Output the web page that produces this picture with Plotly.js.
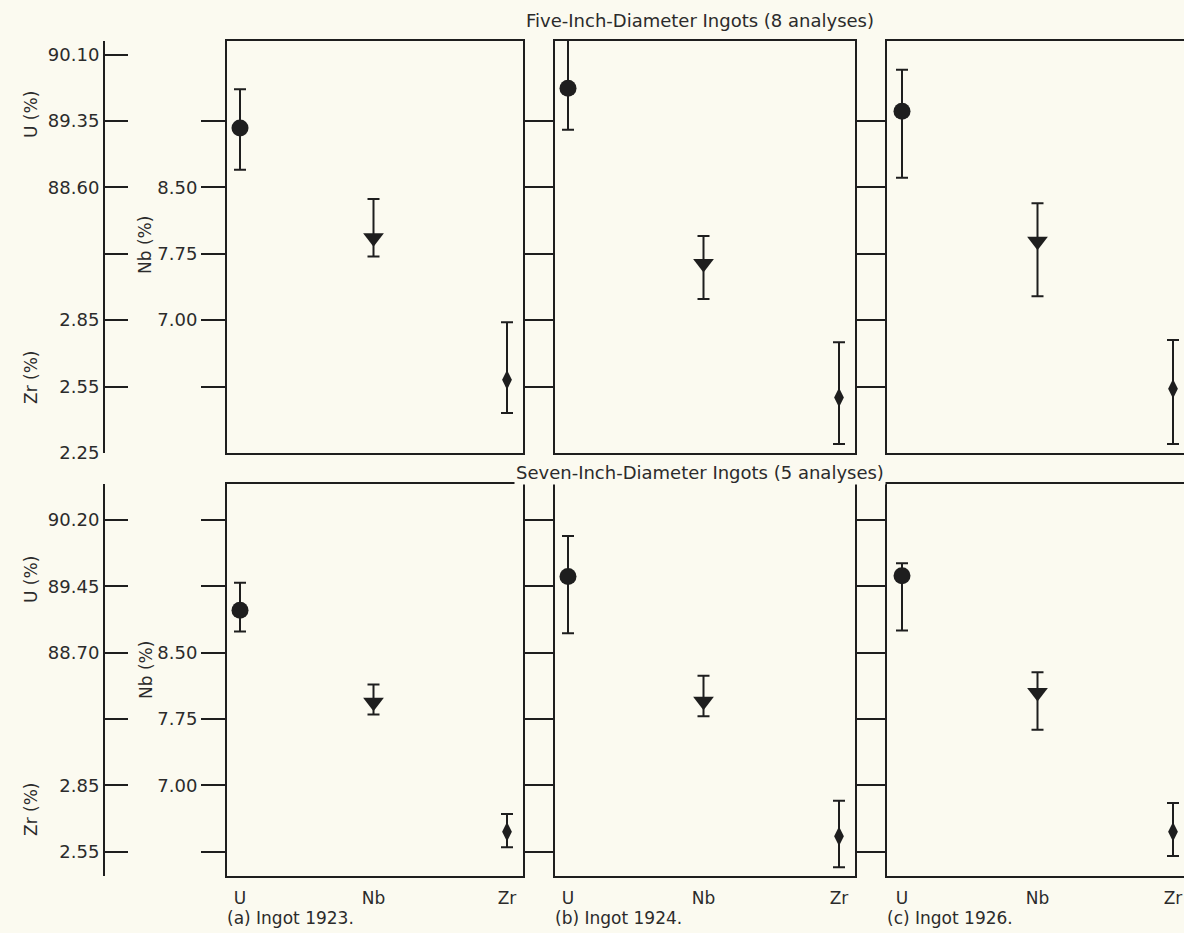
<!DOCTYPE html>
<html><head><meta charset="utf-8">
<script src="https://cdn.plot.ly/plotly-3.0.1.min.js"></script>
<style>html,body{margin:0;padding:0;overflow:hidden;background:#fbfaf0}</style>
</head><body><div id="chart"></div>
<script>
// ---------------- DATA ----------------
const categories = ['U', 'Nb', 'Zr'];
const ingots = ['(a) Ingot 1923.', '(b) Ingot 1924.', '(c) Ingot 1926.'];
const rowTitles = ['Five-Inch-Diameter Ingots (8 analyses)', 'Seven-Inch-Diameter Ingots (5 analyses)'];

// Five-inch ingots (a, b, c)
const u5Mean = [89.27, 89.72, 89.46];
const u5High = [89.71, 90.32, 89.93];
const u5Low  = [88.80, 89.25, 88.71];
const nb5Mean = [7.93, 7.64, 7.89];
const nb5High = [8.37, 7.95, 8.32];
const nb5Low  = [7.72, 7.24, 7.27];
const zr5Mean = [2.58, 2.50, 2.54];
const zr5High = [2.84, 2.75, 2.76];
const zr5Low  = [2.43, 2.29, 2.29];

// Seven-inch ingots (a, b, c)
const u7Mean = [89.18, 89.56, 89.57];
const u7High = [89.49, 90.02, 89.71];
const u7Low  = [88.94, 88.92, 88.95];
const nb7Mean = [7.94, 7.95, 8.05];
const nb7High = [8.14, 8.24, 8.28];
const nb7Low  = [7.80, 7.78, 7.63];
const zr7Mean = [2.64, 2.62, 2.64];
const zr7High = [2.72, 2.78, 2.77];
const zr7Low  = [2.57, 2.48, 2.53];

// Tick values / labels
const uTicks5 = [90.10, 89.35, 88.60, 87.85];
const uTickText5 = ['90.10', '89.35', '88.60', ''];
const zrTicks5 = [2.85, 2.55, 2.25];
const zrTickText5 = ['2.85', '2.55', '2.25'];
const nbTicks5 = [9.25, 8.50, 7.75, 7.00, 6.25];
const nbTickText5 = ['', '8.50', '7.75', '7.00', ''];

const uTicks7 = [90.20, 89.45, 88.70, 87.95];
const uTickText7 = ['90.20', '89.45', '88.70', ''];
const zrTicks7 = [2.85, 2.55];
const zrTickText7 = ['2.85', '2.55'];
const nbTicks7 = [10.00, 9.25, 8.50, 7.75, 7.00, 6.25];
const nbTickText7 = ['', '', '8.50', '7.75', '7.00', ''];

// ---------------- LAYOUT GEOMETRY ----------------
const W = 1200, H = 933;
const fx = p => p / W;
const fy = p => 1 - p / H;
const INK = '#1e1e1e';
const TXT = '#2b2b2b';
const FONT = 'DejaVu Sans';
const BG = '#fbfaf0';

const panelsX = [
  {l: 227, r: 523, u: 240, z: 507},
  {l: 555, r: 855, u: 568, z: 839},
  {l: 887, r: 1195, u: 902, z: 1173}
];
const rows = [
  {top: 41, bot: 453, refPx: 121, uRef: 89.35, nbRef: 9.25, zrRefPx: 386.5, zrRef: 2.55, step: 66.375},
  {top: 484, bot: 876, refPx: 520, uRef: 90.20, nbRef: 10.00, zrRefPx: 851.7, zrRef: 2.55, step: 66.34}
];
function yRange(val, px, pxPerUnit, top, bot) {
  return [val - (bot - px) / pxPerUnit, val + (px - top) / pxPerUnit];
}
function xRange(p) { const s = (p.z - p.u) / 2; return [(p.l - p.u) / s, (p.r - p.u) / s]; }

const data = [];
const layout = {
  width: W, height: H,
  margin: {l: 0, r: 0, t: 0, b: 0},
  paper_bgcolor: BG, plot_bgcolor: BG,
  showlegend: false,
  font: {family: FONT, color: TXT, size: 17},
  annotations: []
};

const rowData = [
  {u: [u5Mean, u5High, u5Low], nb: [nb5Mean, nb5High, nb5Low], zr: [zr5Mean, zr5High, zr5Low],
   uT: [uTicks5, uTickText5], zrT: [zrTicks5, zrTickText5], nbT: [nbTicks5, nbTickText5]},
  {u: [u7Mean, u7High, u7Low], nb: [nb7Mean, nb7High, nb7Low], zr: [zr7Mean, zr7High, zr7Low],
   uT: [uTicks7, uTickText7], zrT: [zrTicks7, zrTickText7], nbT: [nbTicks7, nbTickText7]}
];

const tickFont = {family: FONT, size: 18, color: TXT};

rows.forEach((row, ri) => {
  const rd = rowData[ri];
  const dom = [fy(row.bot), fy(row.top)];
  const ppuA = row.step / 0.75, ppuZ = row.step / 0.30;
  const nbRange = yRange(row.nbRef, row.refPx, ppuA, row.top, row.bot);
  const uRange = yRange(row.uRef, row.refPx, ppuA, row.top, row.bot);
  const zrRange = yRange(row.zrRef, row.zrRefPx, ppuZ, row.top, row.bot);
  const yNb = ri * 3 + 1, yU = ri * 3 + 2, yZr = ri * 3 + 3;
  const xFirst = ri * 3 + 1;
  const key = n => (n === 1 ? '' : String(n));

  // Nb axis: panel frame + ticks between panels
  layout['yaxis' + key(yNb)] = {
    domain: dom, range: nbRange, anchor: 'x' + key(xFirst),
    showline: true, linewidth: 2, linecolor: INK, mirror: 'allticks',
    ticks: 'outside', ticklen: 24, tickwidth: 2, tickcolor: INK,
    tickmode: 'array', tickvals: rd.nbT[0], ticktext: rd.nbT[1],
    showgrid: false, zeroline: false, tickfont: tickFont
  };
  // U outer axis
  layout['yaxis' + key(yU)] = {
    domain: dom, range: uRange, overlaying: 'y' + key(yNb), anchor: 'free', position: fx(104),
    showline: true, linewidth: 2, linecolor: INK,
    ticks: 'inside', ticklen: 23, tickwidth: 2, tickcolor: INK,
    tickmode: 'array', tickvals: rd.uT[0], ticktext: rd.uT[1],
    showgrid: false, zeroline: false, tickfont: tickFont
  };
  // Zr outer axis
  const zrVals = rd.zrT[0].slice(), zrText = rd.zrT[1].slice();
  if (ri === 1) { zrVals.push(zrRange[0] + 1e-6); zrText.push(''); }
  layout['yaxis' + key(yZr)] = {
    domain: dom, range: zrRange, overlaying: 'y' + key(yNb), anchor: 'free', position: fx(104),
    showline: true, linewidth: 2, linecolor: INK,
    ticks: 'inside', ticklen: 23, tickwidth: 2, tickcolor: INK,
    tickmode: 'array', tickvals: zrVals, ticktext: zrText,
    showgrid: false, zeroline: false, tickfont: tickFont
  };

  panelsX.forEach((p, pi) => {
    const xn = xFirst + pi;
    layout['xaxis' + key(xn)] = {
      domain: [fx(p.l), fx(p.r)], range: xRange(p), anchor: 'y' + key(yNb),
      showline: true, linewidth: 2, linecolor: INK, mirror: true,
      showgrid: false, zeroline: false,
      tickmode: 'array', tickvals: [0, 1, 2], ticktext: categories,
      showticklabels: ri === 1,
      ticks: ri === 1 ? 'outside' : '', ticklen: 6, tickcolor: 'rgba(0,0,0,0)',
      tickfont: {family: FONT, size: 17, color: TXT}
    };
    const series = [
      {vals: rd.u, ax: yU, sym: 'circle', size: 17, x: 0},
      {vals: rd.nb, ax: yNb, sym: 'triangle-down', size: 18, x: 1},
      {vals: rd.zr, ax: yZr, sym: 'diamond-tall', size: 14, x: 2}
    ];
    series.forEach(s => {
      const m = s.vals[0][pi], hi = s.vals[1][pi], lo = s.vals[2][pi];
      data.push({
        type: 'scatter', mode: 'markers',
        x: [s.x], y: [m],
        xaxis: 'x' + key(xn), yaxis: 'y' + key(s.ax),
        cliponaxis: false,
        marker: {symbol: s.sym, size: s.size, color: INK, line: {width: 0}},
        error_y: {type: 'data', symmetric: false, array: [hi - m], arrayminus: [m - lo],
                  color: INK, thickness: 2, width: 6},
        hoverinfo: 'skip'
      });
    });
    if (ri === 1) {
      layout.annotations.push({
        text: ingots[pi], xref: 'paper', yref: 'paper', x: fx(p.l - 2), y: fy(918),
        xanchor: 'left', yanchor: 'middle', showarrow: false,
        font: {family: FONT, size: 17, color: TXT}
      });
    }
  });

  // row title
  layout.annotations.push({
    text: rowTitles[ri], xref: 'paper', yref: 'paper', x: fx(700), y: fy(ri === 0 ? 20 : 472),
    xanchor: 'center', yanchor: 'middle', showarrow: false,
    font: {family: FONT, size: 18, color: TXT}, bgcolor: ri === 1 ? BG : 'rgba(0,0,0,0)'
  });
  // axis titles
  const titles = ri === 0
    ? [['U (%)', 31, 115], ['Zr (%)', 31, 378], ['Nb (%)', 145, 245]]
    : [['U (%)', 31, 580], ['Zr (%)', 31, 810], ['Nb (%)', 146, 670]];
  titles.forEach(t => layout.annotations.push({
    text: t[0], xref: 'paper', yref: 'paper', x: fx(t[1]), y: fy(t[2]),
    xanchor: 'center', yanchor: 'middle', textangle: -90, showarrow: false,
    font: {family: FONT, size: 17, color: TXT}
  }));
});

Plotly.newPlot('chart', data, layout, {staticPlot: true, displayModeBar: false});
</script></body></html>
